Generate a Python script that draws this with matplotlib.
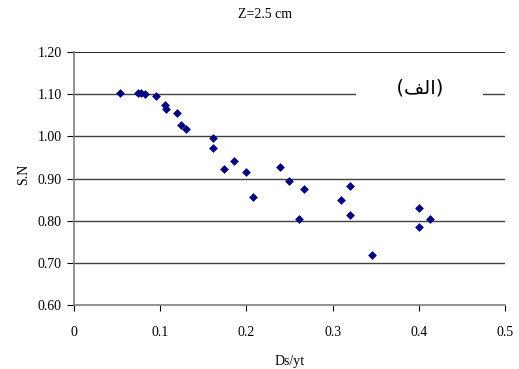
import matplotlib.pyplot as plt

# Ds/yt ve S.N degerleri
ds_yt = [0.053, 0.074, 0.078, 0.082, 0.095, 0.105, 0.107, 0.120, 0.124, 0.130,
         0.161, 0.161, 0.174, 0.186, 0.200, 0.208, 0.239, 0.249, 0.261, 0.267,
         0.310, 0.320, 0.320, 0.346, 0.400, 0.400, 0.413]
sn = [1.103, 1.103, 1.102, 1.100, 1.096, 1.075, 1.065, 1.055, 1.026, 1.018,
      0.995, 0.973, 0.922, 0.941, 0.916, 0.855, 0.927, 0.895, 0.803, 0.875,
      0.849, 0.883, 0.813, 0.718, 0.830, 0.784, 0.803]

x_ticks = [0, 0.1, 0.2, 0.3, 0.4, 0.5]
x_labels = ['0', '0.1', '0.2', '0.3', '0.4', '0.5']
y_ticks = [0.60, 0.70, 0.80, 0.90, 1.00, 1.10, 1.20]

serif = 'Liberation Serif'
fs = 10

fig = plt.figure(figsize=(5.19, 3.69), dpi=100)
ax = fig.add_axes([0.1426, 0.1734, 0.8304, 0.6856])

for y in y_ticks[1:-1]:
    ax.axhline(y, color='#404040', lw=1.0, zorder=1)
ax.axhline(1.20, color='black', lw=1.2, zorder=1)

ax.scatter(ds_yt, sn, marker='D', s=20, color='#000080', zorder=3, linewidths=0)

ax.set_xlim(0, 0.5)
ax.set_ylim(0.6, 1.2)
ax.set_xticks(x_ticks)
ax.set_xticklabels(x_labels, fontfamily=serif, fontsize=fs)
ax.set_yticks(y_ticks)
ax.set_yticklabels(['%.2f' % v for v in y_ticks], fontfamily=serif, fontsize=fs)

for s in ['top', 'right']:
    ax.spines[s].set_visible(False)
for s in ['left', 'bottom']:
    ax.spines[s].set_color('#808080')
    ax.spines[s].set_linewidth(1.2)
ax.tick_params(axis='x', direction='out', length=4, color='black', pad=11)
ax.tick_params(axis='y', direction='out', length=5, color='black', pad=4)

ax.set_xlabel('Ds/yt', fontfamily=serif, fontsize=fs)
ax.set_ylabel('S.N', fontfamily=serif, fontsize=fs)
ax.xaxis.set_label_coords(0.5, -0.225)
ax.yaxis.set_label_coords(-0.116, 0.518)
ax.xaxis.label.set_va('center')
ax.yaxis.label.set_va('center')

fig.text(265 / 519, 1 - 15 / 369, 'Z=2.5 cm', fontfamily=serif, fontsize=fs,
         ha='center', va='center')

# (الف) - presentation forms because matplotlib does not shape Arabic
label = '      (' + '\uFED2\uFEDF\u0627' + ')      '
ax.text(0.401, 1.115, label, fontfamily='DejaVu Sans', fontsize=14,
        ha='center', va='center', zorder=2,
        bbox=dict(facecolor='white', edgecolor='none', pad=2))

fig.savefig('out.png', dpi=100)
